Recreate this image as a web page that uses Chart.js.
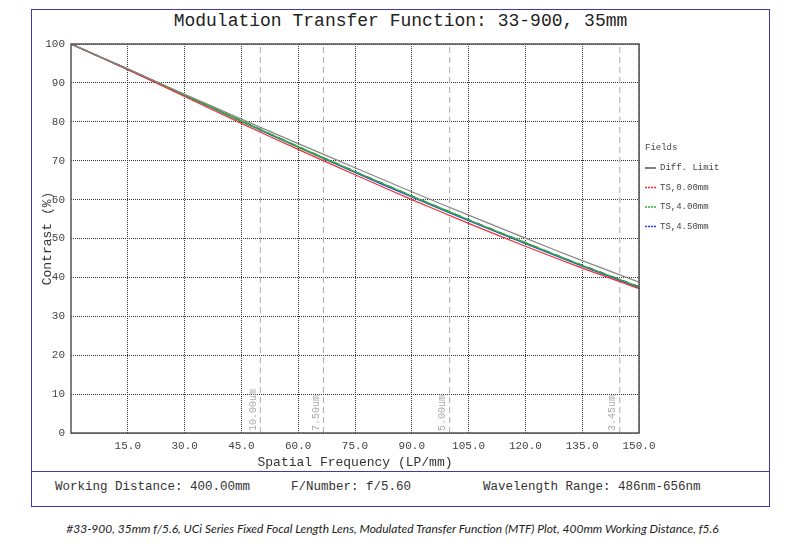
<!DOCTYPE html>
<html><head><meta charset="utf-8">
<script src="https://cdn.jsdelivr.net/npm/chart.js@4"></script>
<style>
body{margin:0;background:#fff;width:785px;height:548px;position:relative;font-family:"Liberation Mono",monospace;overflow:hidden}
#box{position:absolute;left:31px;top:9px;width:739px;height:498px;border:1px solid #3a3ab8;box-sizing:border-box}
#title{position:absolute;left:31px;top:11px;width:739px;text-align:center;font-size:18px;color:#222}
#info{position:absolute;left:31px;top:471px;width:739px;height:36px;border-top:1px solid #3a3ab8;font-size:12.5px;color:#333}
#info span{position:absolute;top:8px}
#cap{position:absolute;left:0;top:521px;width:785px;text-align:center;font-family:"Lato",sans-serif;font-style:italic;font-size:12px;color:#222}
canvas{position:absolute;left:0;top:0}
</style></head><body>
<div id="box"></div>
<div id="title">Modulation Transfer Function: 33-900, 35mm</div>
<div id="info"><span style="left:24px">Working Distance: 400.00mm</span><span style="left:260px">F/Number: f/5.60</span><span style="left:452px">Wavelength Range: 486nm-656nm</span></div>
<div id="cap">#33-900, 35mm f/5.6, UCi Series Fixed Focal Length Lens, Modulated Transfer Function (MTF) Plot, 400mm Working Distance, f5.6</div>
<div style="position:absolute;left:0;top:0;width:785px;height:548px"><canvas id="c"></canvas></div>
<script>
const freqs = [0, 15, 30, 45, 60, 75, 90, 105, 120, 135, 150];
const diffLimit = [100, 93.6, 87.1, 80.7, 74.4, 68.2, 62.0, 56.0, 50.1, 44.3, 38.8];
const ts000 = [100, 93.4, 86.5, 79.6, 72.9, 66.4, 60.0, 53.9, 48.0, 42.4, 37.1];
const ts400 = [100, 93.5, 86.9, 80.2, 73.6, 67.2, 60.9, 54.8, 48.9, 43.1, 37.6];
const ts450 = [100, 93.5, 86.8, 80.1, 73.5, 67.0, 60.7, 54.6, 48.7, 42.9, 37.4];
const pixelFreqs = [50, 66.67, 100, 144.93];
const pixelLabels = ['10.00um', '7.50um', '5.00um', '3.45um'];
const xTicks = [15, 30, 45, 60, 75, 90, 105, 120, 135, 150];

const pts = a => a.map((v, i) => ({x: freqs[i], y: v}));
const mono = {family: 'Liberation Mono', size: 11};

const datasets = [
  {label: 'Diff. Limit', data: pts(diffLimit), borderColor: '#888', borderWidth: 1.2, legendColor: '#555'},
  {label: 'TS,0.00mm', data: pts(ts000), borderColor: '#f03030', borderWidth: 1.2},
  {label: 'TS,4.00mm', data: pts(ts400), borderColor: '#30b030', borderWidth: 1.5},
  {label: 'TS,4.50mm', data: pts(ts450), borderColor: '#2040ff', borderWidth: 1.5},
  {label: '_s', data: pts(ts400), borderColor: '#103040', borderWidth: 1.5, borderDash: [6, 6]}
];
pixelFreqs.forEach(f => datasets.push({label: '_p', data: [{x: f, y: 0}, {x: f, y: 100}], borderColor: '#aaa', borderWidth: 1, borderDash: [6, 4]}));
datasets.forEach(d => { d.pointRadius = 0; d.tension = 0.3; d.fill = false; });

const frame = {
  id: 'frame',
  afterDraw(chart) {
    const {ctx, chartArea: a, scales: {x}} = chart;
    ctx.save();
    ctx.strokeStyle = '#555'; ctx.lineWidth = 1.5;
    ctx.strokeRect(a.left, a.top, a.right - a.left, a.bottom - a.top);
    ctx.font = '10px Liberation Mono'; ctx.fillStyle = '#aaa';
    pixelFreqs.forEach((f, i) => {
      ctx.save(); ctx.translate(x.getPixelForValue(f) - 2, a.bottom - 2); ctx.rotate(-Math.PI / 2);
      ctx.textAlign = 'left'; ctx.textBaseline = 'bottom'; ctx.fillText(pixelLabels[i], 0, 0); ctx.restore();
    });
    ctx.fillStyle = '#444'; ctx.font = '9px Liberation Mono'; ctx.textBaseline = 'middle';
    ctx.fillText('Fields', 645, 148);
    chart.data.datasets.slice(0, 4).forEach((d, i) => {
      const y = 168 + i * 19.5;
      ctx.strokeStyle = d.legendColor || d.borderColor; ctx.lineWidth = 1.5;
      ctx.setLineDash(i ? [2, 1] : []);
      ctx.beginPath(); ctx.moveTo(645, y); ctx.lineTo(656, y); ctx.stroke();
      ctx.fillText(d.label, 660, y);
    });
    ctx.restore();
  }
};

new Chart(document.getElementById('c'), {
  type: 'line',
  data: {datasets},
  plugins: [frame],
  options: {
    responsive: true, maintainAspectRatio: false, animation: false,
    layout: {padding: {left: 40, top: 44, right: 146, bottom: 78}},
    plugins: {legend: {display: false}, tooltip: {enabled: false}},
    scales: {
      x: {
        type: 'linear', min: 0, max: 150,
        afterBuildTicks: s => { s.ticks = xTicks.map(v => ({value: v})); },
        afterFit: s => { s.height = 37; },
        ticks: {font: mono, color: '#444', callback: v => v.toFixed(1), maxRotation: 0, padding: 6},
        grid: {color: '#333', drawTicks: false},
        border: {display: false, dash: [1, 1]},
        title: {display: true, text: 'Spatial Frequency (LP/mm)', font: {family: 'Liberation Mono', size: 13}, color: '#333', padding: 0}
      },
      y: {
        min: 0, max: 100,
        afterFit: s => { s.width = 31; },
        ticks: {stepSize: 10, font: mono, color: '#444', padding: 6},
        grid: {color: '#333', drawTicks: false},
        border: {display: false, dash: [1, 1]},
        title: {display: true, text: 'Contrast (%)', font: {family: 'Liberation Mono', size: 13}, color: '#333', padding: 0}
      }
    }
  }
});
</script>
</body></html>
